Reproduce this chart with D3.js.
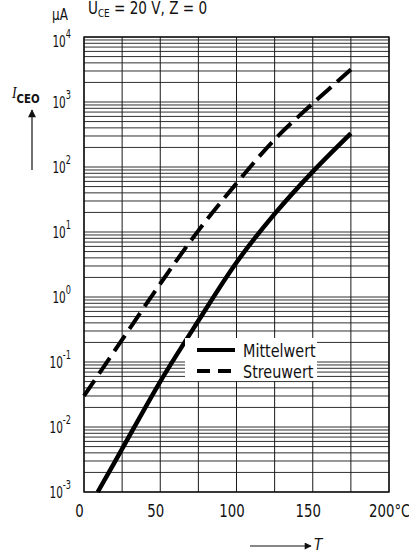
<!DOCTYPE html>
<html>
<head>
<meta charset="utf-8">
<script src="https://cdn.jsdelivr.net/npm/d3@7/dist/d3.min.js"></script>
<style>
  html, body { margin: 0; padding: 0; background: #fff; }
  svg { display: block; }
  text { font-family: "DejaVu Sans", "Liberation Sans", sans-serif; fill: #111; }
</style>
</head>
<body>
<svg id="chart" width="409" height="555"></svg>
<script>
// ---- data ----
const tMittel = [9, 25, 50, 75, 100, 125, 150, 175];
const iMittel = [0.001, 0.0046, 0.050, 0.43, 3.4, 19, 85, 330];
const tStreu  = [0, 25, 50, 75, 100, 125, 150, 175];
const iStreu  = [0.030, 0.22, 1.6, 10.5, 56, 265, 950, 3150];
const xTicks = [0, 50, 100, 150, 200];
const xGrid = [0, 25, 50, 75, 100, 125, 150, 175, 200];
const yDecades = [-3, -2, -1, 0, 1, 2, 3, 4];
const seriesNames = ["Mittelwert", "Streuwert"];

(function () {
const svg = d3.select("#chart");
const pLeft = 84, pRight = 389, pTop = 37, pBottom = 492;
const x = d3.scaleLinear().domain([0, 200]).range([pLeft, pRight]);
const y = d3.scaleLog().domain([1e-3, 1e4]).range([pBottom, pTop]);

function ctext(parent, px, py, size, sx) {
  return parent.append("text")
    .attr("transform", `translate(${px},${py}) scale(${sx},1)`)
    .attr("font-size", size);
}

// title (at the top edge)
const title = ctext(svg, 88, 14, 17, 0.8);
title.append("tspan").text("U");
title.append("tspan").attr("font-size", 11).attr("dy", 3).text("CE");
title.append("tspan").attr("dy", -3).text(" = 20 V, Z = 0");

// grid values
const yGrid = [];
for (let n = -3; n <= 3; n++) for (let k = 1; k <= 9; k++) yGrid.push(k * Math.pow(10, n));
yGrid.push(1e4);

const g = svg.append("g");
g.selectAll("line.h").data(yGrid).enter().append("line")
  .attr("x1", pLeft).attr("x2", pRight)
  .attr("y1", d => y(d)).attr("y2", d => y(d))
  .attr("stroke", "#1a1a1a").attr("stroke-width", 0.9);
g.selectAll("line.v").data(xGrid).enter().append("line")
  .attr("x1", d => x(d)).attr("x2", d => x(d))
  .attr("y1", pTop).attr("y2", pBottom)
  .attr("stroke", "#1a1a1a").attr("stroke-width", 1);
g.append("rect").attr("x", pLeft).attr("y", pTop).attr("width", pRight - pLeft).attr("height", pBottom - pTop)
  .attr("fill", "none").attr("stroke", "#111").attr("stroke-width", 1.4);

// y axis labels via d3 axis
const yAxis = d3.axisLeft(y).tickValues(yDecades.map(e => Math.pow(10, e))).tickSize(0).tickFormat("");
const ya = svg.append("g").attr("transform", `translate(${pLeft - 13},0)`).call(yAxis);
ya.select(".domain").remove();
ya.selectAll(".tick").each(function(d) {
  const e = Math.round(Math.log10(d));
  const t = d3.select(this).append("text")
    .attr("text-anchor", "end").attr("font-size", 15.5)
    .attr("transform", "scale(0.68,1)")
    .attr("y", e === 4 ? 4 : 0)
    .attr("dy", "0.33em").attr("fill", "#111");
  t.append("tspan").text("10");
  t.append("tspan").attr("font-size", 12).attr("dy", "-0.75em").text(e < 0 ? "-" + (-e) : e);
});

// x axis labels via d3 axis
const xAxis = d3.axisBottom(x).tickValues(xTicks).tickSize(0).tickFormat(d => d === 200 ? "200°C" : d);
const xa = svg.append("g").attr("transform", `translate(-5,${pBottom + 9})`).call(xAxis);
xa.select(".domain").remove();
xa.selectAll("text").attr("font-size", 18).attr("fill", "#111").attr("font-family", null)
  .attr("transform", "scale(0.74,1)");
xa.selectAll(".tick").filter(d => d === 200).select("text").attr("text-anchor", "start").attr("x", -21);

// unit and axis title
ctext(svg, 52, 20, 15, 0.8).text("µA");
const yl = ctext(svg, 12, 98, 16, 0.85);
yl.append("tspan").attr("font-style", "italic").attr("font-family", "Liberation Serif, serif").text("I");
yl.append("tspan").attr("font-size", 12).attr("font-weight", "bold").attr("dy", 5).text("CEO");

const defs = svg.append("defs");
defs.append("marker").attr("id", "ah").attr("viewBox", "0 0 10 10").attr("refX", 9).attr("refY", 5)
  .attr("markerWidth", 14).attr("markerHeight", 8).attr("markerUnits", "userSpaceOnUse").attr("orient", "auto")
  .append("path").attr("d", "M0,0 L10,5 L0,10 z").attr("fill", "#111");
defs.append("marker").attr("id", "ah2").attr("viewBox", "0 0 10 10").attr("refX", 9).attr("refY", 5)
  .attr("markerWidth", 15).attr("markerHeight", 7).attr("markerUnits", "userSpaceOnUse").attr("orient", "auto")
  .append("path").attr("d", "M0,0 L10,5 L0,10 z").attr("fill", "#111");

svg.append("line").attr("x1", 32).attr("y1", 170).attr("x2", 32).attr("y2", 110)
  .attr("stroke", "#111").attr("stroke-width", 1.2).attr("marker-end", "url(#ah)");
svg.append("line").attr("x1", 250).attr("y1", 546).attr("x2", 311).attr("y2", 546)
  .attr("stroke", "#111").attr("stroke-width", 1.2).attr("marker-end", "url(#ah2)");
ctext(svg, 314, 550, 16, 0.85).attr("font-style", "italic")
  .attr("font-family", "Liberation Serif, serif").text("T");

// curves
const line = d3.line().x(d => x(d[0])).y(d => y(d[1])).curve(d3.curveCatmullRom.alpha(0.5));
const mData = tMittel.map((t, i) => [t, iMittel[i]]);
const sData = tStreu.map((t, i) => [t, iStreu[i]]);
svg.append("path").datum(mData).attr("d", line).attr("fill", "none").attr("stroke", "#000").attr("stroke-width", 4.5);
svg.append("path").datum(sData).attr("d", line).attr("fill", "none").attr("stroke", "#000").attr("stroke-width", 4)
  .attr("stroke-dasharray", "19,8");

// legend
const lg = svg.append("g");
lg.append("rect").attr("x", 185).attr("y", 338).attr("width", 132).attr("height", 43).attr("fill", "#fff");
seriesNames.forEach((name, i) => {
  const yy = 350 + i * 21;
  lg.append("line").attr("x1", 197).attr("x2", 235).attr("y1", yy).attr("y2", yy)
    .attr("stroke", "#000").attr("stroke-width", 4).attr("stroke-dasharray", i ? "13,8" : null);
  ctext(lg, 243, yy + 7, 18, 0.8).text(name);
});
})();
</script>
</body>
</html>
